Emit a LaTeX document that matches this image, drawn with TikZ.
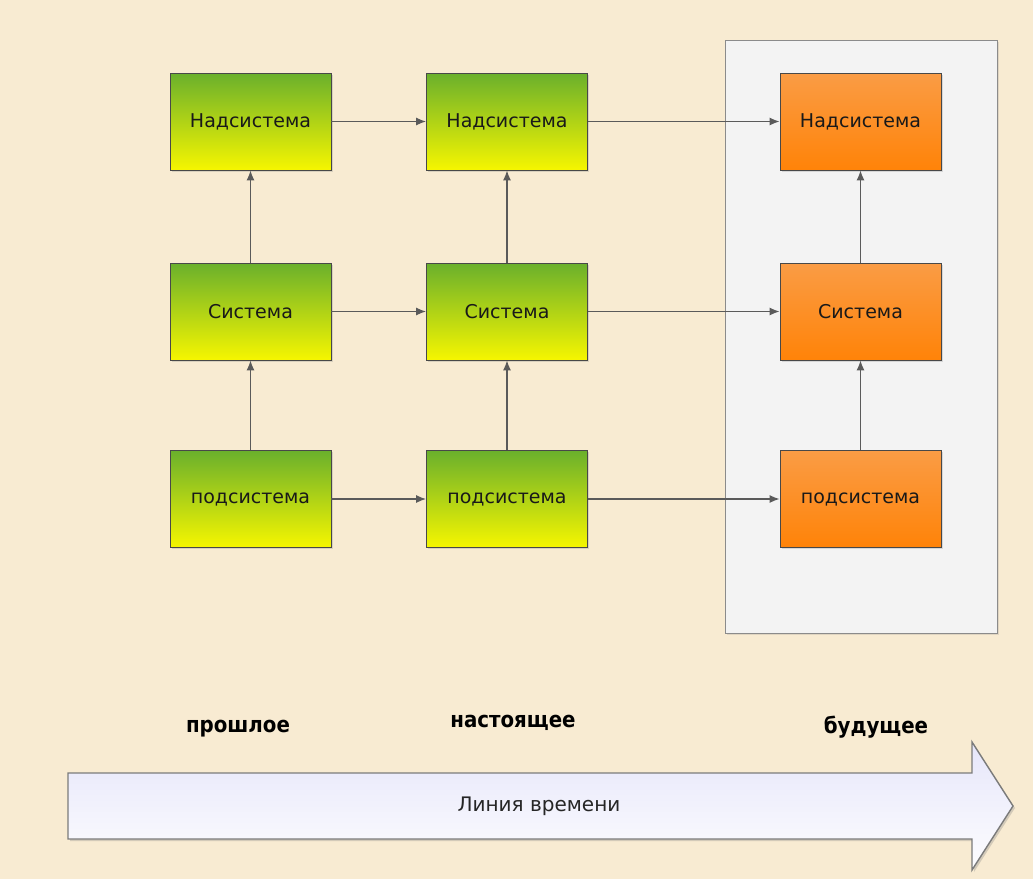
\documentclass[tikz,border=0pt]{standalone}
\usepackage{fontspec}
\setmainfont{DejaVu Sans}
\newfontfamily\labfont{DejaVu Sans Condensed}
\usetikzlibrary{arrows.meta,shadows}
\definecolor{bgc}{HTML}{F8EBD2}
\definecolor{greentop}{HTML}{6AB02C}
\definecolor{greenbot}{HTML}{F6F600}
\definecolor{orangetop}{HTML}{FA9C45}
\definecolor{orangebot}{HTML}{FF8308}
\definecolor{linec}{HTML}{5A5A5A}
\definecolor{panelc}{HTML}{F3F3F3}
\definecolor{lav}{HTML}{E6E6FA}
\tikzset{
  sysbox/.style={draw=linec!80!black, line width=0.9pt, minimum width=161pt, minimum height=97pt,
    inner sep=0pt, font=\fontsize{19}{22}\selectfont, text=black!90,
    drop shadow={shadow xshift=1.5pt, shadow yshift=-1.5pt, opacity=0.25}},
  greenbox/.style={sysbox, top color=greentop, bottom color=greenbot},
  orangebox/.style={sysbox, top color=orangetop, bottom color=orangebot},
  conn/.style={draw=linec, line width=1.2pt, -{Latex[length=10pt,width=8pt]}},
  timelab/.style={font=\labfont\bfseries\fontsize{22}{24}\selectfont, text=black}
}
\begin{document}
\begin{tikzpicture}[x=1pt,y=-1pt]
\useasboundingbox (0,0) rectangle (1033,879);
\fill[bgc] (0,0) rectangle (1033,879);
% future panel
\node[draw=linec!70, line width=1pt, fill=panelc, minimum width=272pt, minimum height=593pt, inner sep=0pt,
  drop shadow={shadow xshift=1.5pt, shadow yshift=-1.5pt, opacity=0.2}] (panel) at (861,336.5) {};
% boxes
\node[greenbox] (n1) at (250.5,121.5) {Надсистема};
\node[greenbox] (s1) at (250.5,311.5) {Система};
\node[greenbox] (p1) at (250.5,499) {подсистема};
\node[greenbox] (n2) at (507,121.5) {Надсистема};
\node[greenbox] (s2) at (507,311.5) {Система};
\node[greenbox] (p2) at (507,499) {подсистема};
\node[orangebox] (n3) at (860.5,121.5) {Надсистема};
\node[orangebox] (s3) at (860.5,311.5) {Система};
\node[orangebox] (p3) at (860.5,499) {подсистема};
% connectors
\draw[conn] (n1) -- (n2);
\draw[conn] (n2) -- (n3);
\draw[conn] (s1) -- (s2);
\draw[conn] (s2) -- (s3);
\draw[conn] (p1) -- (p2);
\draw[conn] (p2) -- (p3);
\draw[conn] (s1) -- (n1);
\draw[conn] (p1) -- (s1);
\draw[conn] (s2) -- (n2);
\draw[conn] (p2) -- (s2);
\draw[conn] (s3) -- (n3);
\draw[conn] (p3) -- (s3);
% timeline
\draw[draw=linec!80, line width=1.4pt, top color=lav, bottom color=white!92!lav,
  drop shadow={shadow xshift=2pt, shadow yshift=-2pt, opacity=0.3}]
  (68,773) -- (972,773) -- (972,742) -- (1013,806) -- (972,870) -- (972,839) -- (68,839) -- cycle;
\node[font=\fontsize{20}{24}\selectfont, text=black!85] (tl) at (539,806) {Линия времени};
\node[timelab] (past) at (238,729) {прошлое};
\node[timelab] (pres) at (513,723) {настоящее};
\node[timelab] (fut) at (876,727) {будущее};
\end{tikzpicture}
\end{document}
